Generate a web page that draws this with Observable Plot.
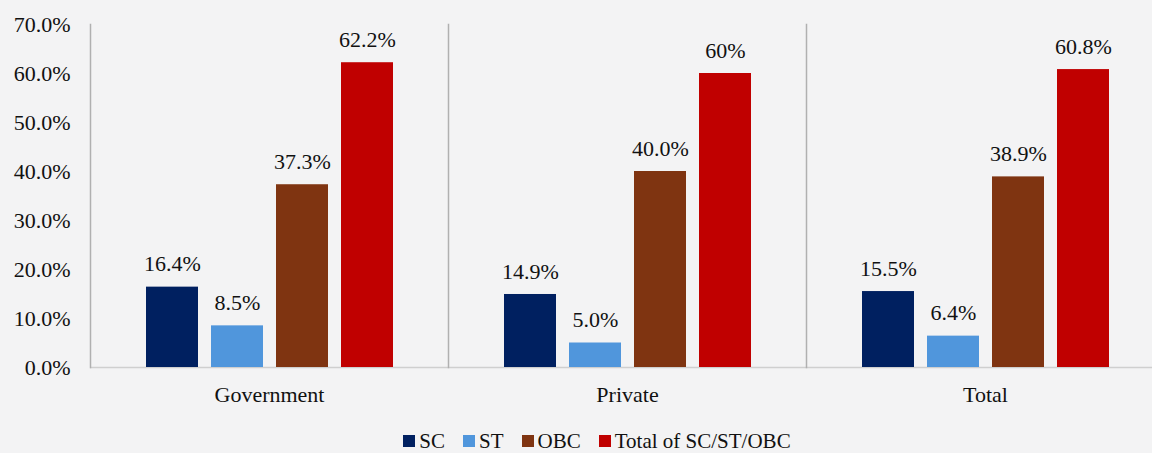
<!DOCTYPE html>
<html><head><meta charset="utf-8">
<script src="https://cdn.jsdelivr.net/npm/d3@7"></script>
<script src="https://cdn.jsdelivr.net/npm/@observablehq/plot@0.6"></script>
<style>
html,body{margin:0;padding:0;background:#f3f3f4;overflow:hidden;width:1152px;height:453px}
#chart{width:1152px;overflow:hidden}
.legend{display:flex;justify-content:center;align-items:center;gap:18px;font-family:"Liberation Serif",serif;font-size:21px;color:#111;height:22px;line-height:22px;margin-top:15px;padding-left:42px}
.item{display:flex;align-items:center}
.sw{display:inline-block;width:12px;height:12px;margin-right:4px}
</style></head><body>
<div id="chart"></div>
<div class="legend" id="legend"></div>
<script>
const groups = ["Government", "Private", "Total"];
const series = ["SC", "ST", "OBC", "Total of SC/ST/OBC"];
const colors = ["#002060", "#5096DC", "#7F3411", "#C00000"];
const scValues = [16.4, 14.9, 15.5];
const stValues = [8.5, 5.0, 6.4];
const obcValues = [37.3, 40.0, 38.9];
const totalValues = [62.2, 60, 60.8];
const scLabels = ["16.4%", "14.9%", "15.5%"];
const stLabels = ["8.5%", "5.0%", "6.4%"];
const obcLabels = ["37.3%", "40.0%", "38.9%"];
const totalLabels = ["62.2%", "60%", "60.8%"];
const yTicks = [0, 10, 20, 30, 40, 50, 60, 70];
const yTickLabels = ["0.0%", "10.0%", "20.0%", "30.0%", "40.0%", "50.0%", "60.0%", "70.0%"];

const valuesBySeries = [scValues, stValues, obcValues, totalValues];
const labelsBySeries = [scLabels, stLabels, obcLabels, totalLabels];
const data = groups.flatMap((g, i) => series.map((s, j) => ({
  group: g, series: s, value: valuesBySeries[j][i], label: labelsBySeries[j][i]
})));

const plot = Plot.plot({
  width: 1165, height: 415,
  marginLeft: 89, marginRight: 0, marginTop: 24, marginBottom: 48,
  style: {fontFamily: "'Liberation Serif', serif", fontSize: "22px", background: "transparent", color: "#111", maxWidth: "none", display: "block"},
  fx: {domain: groups, padding: 0, label: null, axis: "bottom", tickSize: 0, tickPadding: 19},
  x: {domain: series, paddingInner: 0.2, paddingOuter: 0.845, axis: null},
  y: {domain: [0, 70], ticks: yTicks, tickFormat: d => yTickLabels[yTicks.indexOf(d)], tickSize: 0, tickPadding: 20, label: null},
  color: {domain: series, range: colors},
  marks: [
    Plot.ruleY([0], {stroke: "#cfcfcf", strokeWidth: 1.5}),
    Plot.frame({anchor: "left", stroke: "#b0b0b0", strokeWidth: 1.5}),
    Plot.barY(data, {fx: "group", x: "series", y: "value", fill: "series"}),
    Plot.text(data, {fx: "group", x: "series", y: "value", text: "label", dy: -23, fontSize: 22, fill: "#111"})
  ]
});
document.getElementById("chart").appendChild(plot);

const legend = document.getElementById("legend");
series.forEach((s, i) => {
  const item = document.createElement("span");
  item.className = "item";
  const sw = document.createElement("span");
  sw.className = "sw";
  sw.style.background = colors[i];
  item.appendChild(sw);
  item.appendChild(document.createTextNode(s));
  legend.appendChild(item);
});
</script>
</body></html>
